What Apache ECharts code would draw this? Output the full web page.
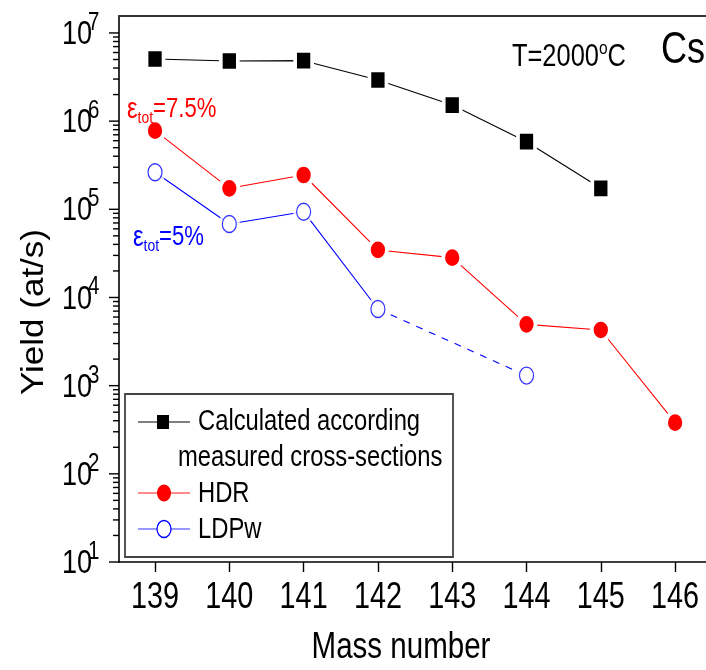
<!DOCTYPE html>
<html>
<head>
<meta charset="utf-8">
<script src="https://cdn.jsdelivr.net/npm/echarts@6/dist/echarts.min.js"></script>
<style>
html,body{margin:0;padding:0;background:#fff;}
#main{width:706px;height:670px;}
</style>
</head>
<body>
<div id="main"></div>
<script>
// mass numbers on the x axis
var massNumbers = [139, 140, 141, 142, 143, 144, 145, 146];
// calculated yield (measured cross-sections), 139..145
var calcMass = [139, 140, 141, 142, 143, 144, 145];
var calcYield = [5.07e6, 4.81e6, 4.85e6, 2.93e6, 1.52e6, 5.85e5, 1.73e5];
// HDR target, 139..146
var hdrMass = [139, 140, 141, 142, 143, 144, 145, 146];
var hdrYield = [7.8e5, 1.73e5, 2.45e5, 3.46e4, 2.83e4, 4.96e3, 4.28e3, 380];
// LDPw target (no point at 143)
var ldpwMass = [139, 140, 141, 142, 144];
var ldpwYield = [2.63e5, 6.82e4, 9.4e4, 7.4e3, 1.30e3];
// y decades and their exponents (tick labels 10^1 .. 10^7)
var yDecades = [10, 100, 1e3, 1e4, 1e5, 1e6, 1e7];
var yExponents = ['1', '2', '3', '4', '5', '6', '7'];

var xMin = 138.515, xMax = 146.86;
var yMin = 10, yMax = 1.557e7;
var SANS = '"Liberation Sans", Arial, sans-serif';
var SQ = 0.82; // the original is squeezed horizontally

function pairs(xs, ys) {
	var out = [];
	for (var i = 0; i < xs.length; i++) out.push([xs[i], ys[i]]);
	return out;
}

// tick marks on the log axis: long ones on decades, short ones on 2..9
var yTickData = [];
for (var d = 0; d < yDecades.length; d++) {
	yTickData.push([xMin, yDecades[d], 10]);
	if (d < yDecades.length - 1) {
		for (var m = 2; m <= 9; m++) yTickData.push([xMin, yDecades[d] * m, 6]);
	}
}
var yLabelData = [];
for (var j = 0; j < yDecades.length; j++) yLabelData.push([xMin, yDecades[j], j]);
var xLabelData = [];
for (var k = 0; k < massNumbers.length; k++) xLabelData.push([massNumbers[k], yMin]);

var ldpwSolid = pairs(ldpwMass.slice(0, 4), ldpwYield.slice(0, 4));
var ldpwDash = pairs(ldpwMass.slice(3), ldpwYield.slice(3));

function txt(x, y, text, size, color, align, extra) {
	var o = { type: 'text', x: x, y: y, scaleX: SQ, z: 11,
		style: { text: text, font: size + 'px ' + SANS, fill: color, align: align || 'left', verticalAlign: 'middle' } };
	if (extra) for (var key in extra) o[key] = extra[key];
	return o;
}

function epsLabel(x, y, rest, color) {
	return { type: 'text', x: x, y: y, scaleX: SQ, z: 11,
		style: { text: '{e|ε}{t|tot}{n|' + rest + '}', align: 'left', verticalAlign: 'middle',
			rich: {
				e: { fontFamily: SANS, fontSize: 29, lineHeight: 34, fill: color },
				t: { fontFamily: SANS, fontSize: 17, lineHeight: 10, verticalAlign: 'bottom', fill: color },
				n: { fontFamily: SANS, fontSize: 27, lineHeight: 34, fill: color }
			} } };
}

var myChart = echarts.init(document.getElementById('main'));
var option = {
	backgroundColor: '#fff',
	animation: false,
	grid: { left: 119, top: 16, width: 620, height: 546, outerBoundsMode: 'none', containLabel: false },
	xAxis: [{
		type: 'value',
		min: xMin,
		max: xMax,
		position: 'bottom',
		splitLine: { show: false },
		axisLine: { lineStyle: { color: '#000', width: 1.6 } },
		axisTick: { customValues: massNumbers, length: 10, lineStyle: { color: '#000', width: 1.4 } },
		axisLabel: { show: false }
	}, {
		type: 'value',
		min: xMin,
		max: xMax,
		position: 'top',
		splitLine: { show: false },
		axisLine: { lineStyle: { color: '#333', width: 2 } },
		axisTick: { show: false },
		axisLabel: { show: false }
	}],
	yAxis: {
		type: 'log',
		logBase: 10,
		min: yMin,
		max: yMax,
		splitNumber: 6,
		splitLine: { show: false },
		axisLine: { lineStyle: { color: '#000', width: 1.6 } },
		axisTick: { show: false },
		axisLabel: { show: false }
	},
	series: [{
		// y ticks
		type: 'custom',
		silent: true,
		clip: false,
		data: yTickData,
		encode: { x: 0, y: 1 },
		renderItem: function (params, api) {
			var p = api.coord([api.value(0), api.value(1)]);
			var len = api.value(2);
			return {
				type: 'line',
				shape: { x1: p[0] - len, y1: p[1], x2: p[0], y2: p[1] },
				style: { stroke: '#000', lineWidth: 1.4 }
			};
		}
	}, {
		// y tick labels 10^n
		type: 'custom',
		silent: true,
		clip: false,
		data: yLabelData,
		encode: { x: 0, y: 1 },
		renderItem: function (params, api) {
			var p = api.coord([api.value(0), api.value(1)]);
			return {
				type: 'group',
				children: [{
					type: 'text', x: p[0] - 27, y: p[1] + 2, scaleX: SQ,
					style: { text: '10', font: '33px ' + SANS, fill: '#000', align: 'right', verticalAlign: 'middle' }
				}, {
					type: 'text', x: p[0] - 31, y: p[1] - 10, scaleX: SQ,
					style: { text: yExponents[params.dataIndex], font: '25px ' + SANS, fill: '#000', align: 'left', verticalAlign: 'middle' }
				}]
			};
		}
	}, {
		// x tick labels
		type: 'custom',
		silent: true,
		clip: false,
		data: xLabelData,
		encode: { x: 0, y: 1 },
		renderItem: function (params, api) {
			var p = api.coord([api.value(0), api.value(1)]);
			return {
				type: 'text', x: p[0], y: p[1] + 36, scaleX: 0.8,
				style: { text: String(massNumbers[params.dataIndex]), font: '36px ' + SANS, fill: '#000', align: 'center', verticalAlign: 'middle' }
			};
		}
	}, {
		name: 'Calculated',
		type: 'line',
		data: pairs(calcMass, calcYield),
		symbol: 'rect',
		symbolSize: [17, 20],
		itemStyle: { color: '#000', borderColor: '#fff', borderWidth: 4 },
		lineStyle: { color: '#000', width: 1.1 },
		z: 3
	}, {
		name: 'HDR',
		type: 'line',
		data: pairs(hdrMass, hdrYield),
		symbol: 'circle',
		symbolSize: [18, 21],
		itemStyle: { color: '#ff0000', borderColor: '#fff', borderWidth: 4 },
		lineStyle: { color: '#ff0000', width: 1.1 },
		z: 3
	}, {
		name: 'LDPw',
		type: 'line',
		data: ldpwSolid,
		symbol: 'none',
		lineStyle: { color: '#0000ff', width: 1.1 },
		z: 2
	}, {
		name: 'LDPw dashed',
		type: 'line',
		data: ldpwDash,
		symbol: 'none',
		lineStyle: { color: '#0000ff', width: 1.1, type: [7, 7] },
		z: 2
	}, {
		name: 'LDPw halo',
		type: 'scatter',
		data: pairs(ldpwMass, ldpwYield),
		symbol: 'circle',
		symbolSize: [21, 24],
		itemStyle: { color: '#fff' },
		silent: true,
		z: 4
	}, {
		name: 'LDPw points',
		type: 'scatter',
		data: pairs(ldpwMass, ldpwYield),
		symbol: 'circle',
		symbolSize: [14, 17],
		itemStyle: { color: '#fff', borderColor: '#0000ff', borderWidth: 1.3 },
		z: 5
	}],
	graphic: [
		// axis titles
		{ type: 'text', x: 35, y: 312, rotation: Math.PI / 2, scaleY: 0.88,
		  style: { text: 'Yield (at/s)', font: '35px ' + SANS, fill: '#000', align: 'center', verticalAlign: 'middle' } },
		txt(401, 648, 'Mass number', 36, '#000', 'center'),
		// annotations
		{ type: 'text', x: 512, y: 57, scaleX: SQ,
		  style: { text: '{n|T=2000}{s|o}{n|C}', align: 'left', verticalAlign: 'middle',
		    rich: {
		      n: { fontFamily: SANS, fontSize: 31, lineHeight: 36, fill: '#000' },
		      s: { fontFamily: SANS, fontSize: 19, lineHeight: 19, verticalAlign: 'top', fill: '#000' }
		    } } },
		txt(705, 51, 'Cs', 44, '#000', 'right'),
		epsLabel(127, 110, '=7.5%', '#ff0000'),
		epsLabel(133, 238, '=5%', '#0000ff'),
		// legend box
		{ type: 'rect', shape: { x: 125, y: 394, width: 328, height: 163 },
		  style: { fill: '#fff', stroke: '#444', lineWidth: 1.8 }, z: 10 },
		{ type: 'line', shape: { x1: 138, y1: 422, x2: 190, y2: 422 }, style: { stroke: '#000', lineWidth: 1.1 }, z: 11 },
		{ type: 'rect', shape: { x: 157, y: 415, width: 12, height: 14 }, style: { fill: '#000' }, z: 12 },
		txt(198, 422, 'Calculated according', 29, '#000'),
		txt(178, 458, 'measured cross-sections', 29, '#000'),
		{ type: 'line', shape: { x1: 138, y1: 493, x2: 190, y2: 493 }, style: { stroke: '#ff6666', lineWidth: 1.3 }, z: 11 },
		{ type: 'ellipse', shape: { cx: 164, cy: 493, rx: 7, ry: 8.5 }, style: { fill: '#ff0000' }, z: 12 },
		txt(198, 494, 'HDR', 29, '#000'),
		{ type: 'line', shape: { x1: 138, y1: 529, x2: 190, y2: 529 }, style: { stroke: '#3333ff', lineWidth: 1.1 }, z: 11 },
		{ type: 'ellipse', shape: { cx: 164, cy: 529, rx: 7, ry: 8.5 }, style: { fill: '#fff', stroke: '#0000ff', lineWidth: 1.3 }, z: 12 },
		txt(198, 530, 'LDPw', 29, '#000')
	]
};
myChart.setOption(option);
</script>
</body>
</html>
